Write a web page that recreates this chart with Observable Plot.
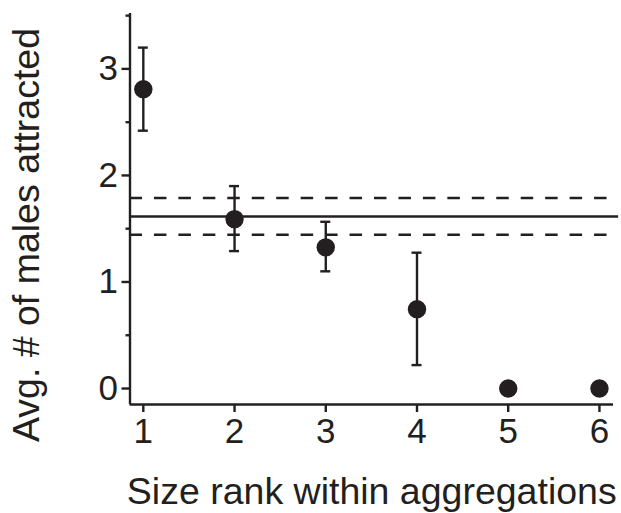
<!DOCTYPE html>
<html><head><meta charset="utf-8">
<script src="https://cdn.jsdelivr.net/npm/d3@7"></script>
<script src="https://cdn.jsdelivr.net/npm/@observablehq/plot@0.6"></script>
<style>body{margin:0;background:#fff}svg{display:block}</style>
</head><body><div id="chart"></div>
<script>
// data
const ranks = [1, 2, 3, 4, 5, 6];
const means = [2.81, 1.59, 1.325, 0.745, 0, 0];
const lows  = [2.42, 1.29, 1.10, 0.22, 0, 0];
const highs = [3.20, 1.90, 1.565, 1.275, 0, 0];
const overallMean = [1.615];
const ciBounds = [1.443, 1.788];
const xTicks = [1, 2, 3, 4, 5, 6];
const yTicks = [0, 1, 2, 3];
const yMinorTicks = [0.5, 1.5, 2.5, 3.5];
const xTitle = "Size rank within aggregations";
const yTitle = "Avg. # of males attracted";

const rows = ranks.map((r, i) => ({rank: r, mean: means[i], lo: lows[i], hi: highs[i]}));
const bars = rows.filter(d => d.hi > d.lo);

const ink = "#231f20";
const sw = 2.4;
const xDomain = [0.854, 6.154];
const yDomain = [-0.15, 3.52];
const font = "'Liberation Sans', Arial, Helvetica, sans-serif";

const chart = Plot.plot({
  width: 621,
  height: 513,
  marginLeft: 129.5,
  marginRight: 8,
  marginTop: 13,
  marginBottom: 109,
  style: {background: "#fff", fontFamily: font, color: ink},
  x: {domain: xDomain},
  y: {domain: yDomain},
  marks: [
    // axis lines
    Plot.ruleX([xDomain[0]], {stroke: ink, strokeWidth: sw, y1: yDomain[0], y2: yDomain[1]}),
    Plot.ruleY([yDomain[0]], {stroke: ink, strokeWidth: sw, x1: xDomain[0], x2: xDomain[1]}),
    Plot.axisY(yTicks, {tickSize: 8, tickPadding: 4, fontSize: 35, tickFormat: d3.format("d"), stroke: ink, fill: ink, strokeWidth: sw, label: null}),
    Plot.axisY(yMinorTicks, {tickSize: 4, tickFormat: () => "", stroke: ink, strokeWidth: sw, label: null}),
    Plot.axisX(xTicks, {tickSize: 8, tickPadding: 6, fontSize: 35, tickFormat: d3.format("d"), stroke: ink, fill: ink, strokeWidth: sw, label: null}),
    // reference lines
    Plot.ruleY(ciBounds, {x1: xDomain[0], x2: 6.1, stroke: ink, strokeWidth: sw, strokeDasharray: "12.5,11.95", clip: false}),
    Plot.ruleY(overallMean, {x1: xDomain[0], x2: 6.21, stroke: ink, strokeWidth: sw, clip: false}),
    // error bars
    Plot.ruleX(bars, {x: "rank", y1: "lo", y2: "hi", stroke: ink, strokeWidth: sw}),
    Plot.ruleY(bars, {y: "hi", x1: "rank", x2: "rank", insetLeft: -5, insetRight: -5, stroke: ink, strokeWidth: sw}),
    Plot.ruleY(bars, {y: "lo", x1: "rank", x2: "rank", insetLeft: -5, insetRight: -5, stroke: ink, strokeWidth: sw}),
    // points
    Plot.dot(rows, {x: "rank", y: "mean", r: 9.2, fill: ink, stroke: "none"}),
    // titles
    Plot.text([xTitle], {frameAnchor: "bottom", textAnchor: "middle", dy: 87, lineAnchor: "middle", fontSize: 37.5, fill: ink}),
    Plot.text([yTitle], {frameAnchor: "left", textAnchor: "middle", dx: -103, dy: 26, rotate: -90, lineAnchor: "middle", fontSize: 37.5, fill: ink})
  ]
});
document.getElementById("chart").appendChild(chart);
</script>
</body></html>
